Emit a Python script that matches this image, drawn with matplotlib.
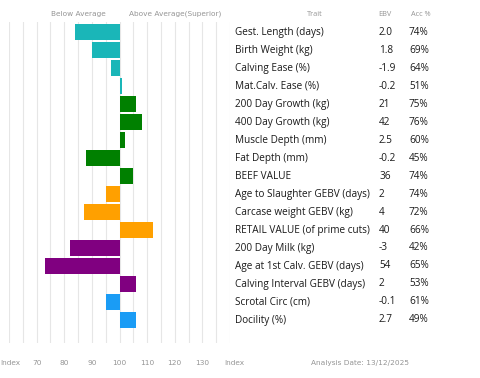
import matplotlib.pyplot as plt
from matplotlib.transforms import blended_transform_factory

traits = ["Gest. Length (days)", "Birth Weight (kg)", "Calving Ease (%)",
          "Mat.Calv. Ease (%)", "200 Day Growth (kg)", "400 Day Growth (kg)",
          "Muscle Depth (mm)", "Fat Depth (mm)", "BEEF VALUE",
          "Age to Slaughter GEBV (days)", "Carcase weight GEBV (kg)",
          "RETAIL VALUE (of prime cuts)", "200 Day Milk (kg)",
          "Age at 1st Calv. GEBV (days)", "Calving Interval GEBV (days)",
          "Scrotal Circ (cm)", "Docility (%)"]
ebv = ["2.0", "1.8", "-1.9", "-0.2", "21", "42", "2.5", "-0.2", "36",
       "2", "4", "40", "-3", "54", "2", "-0.1", "2.7"]
acc = ["74%", "69%", "64%", "51%", "75%", "76%", "60%", "45%", "74%",
       "74%", "72%", "66%", "42%", "65%", "53%", "61%", "49%"]
index = [84, 90, 97, 101, 106, 108, 102, 88, 105,
         95, 87, 112, 82, 73, 106, 95, 106]
group = ["a", "a", "a", "a", "b", "b", "b", "b", "b",
         "c", "c", "c", "d", "d", "d", "e", "e"]
groupColors = {"a": "#1ab6b8", "b": "#008000", "c": "#ffa000",
               "d": "#800080", "e": "#1a9cf5"}
tickVals = [70, 80, 90, 100, 110, 120, 130]

plt.rcParams['font.family'] = ['Open Sans', 'DejaVu Sans']

fig = plt.figure(figsize=(4.8, 3.78), dpi=100)
W, H = 480, 378
ax = fig.add_axes([9 / W, 1 - 343 / H, 221 / W, 321 / H])

n = len(traits)
rows = list(range(n))
colors = [groupColors[g] for g in group]
ax.barh(rows, [v - 100 for v in index], left=100, height=0.85, color=colors, zorder=2)

for g in range(60, 141, 5):
    ax.axvline(g, color="#e6e6e6", linewidth=0.8, zorder=1)

ax.set_xlim(60, 140)
ax.set_ylim(16 + 23 / 18, -10 / 18)
ax.axis("off")

tr = blended_transform_factory(fig.transFigure, ax.transData)
for i in rows:
    ax.text(235 / W, i, traits[i], transform=tr, fontsize=7.2, va="center", color="#1a1a1a")
    ax.text(379 / W, i, ebv[i], transform=tr, fontsize=7.2, va="center", color="#1a1a1a")
    ax.text(409 / W, i, acc[i], transform=tr, fontsize=7.2, va="center", color="#1a1a1a")

gray = "#959595"
gfont = "DejaVu Sans"
fy = 1 - 14 / H
fig.text(78 / W, fy, "Below Average", fontsize=5.3, family=gfont, color=gray, ha="center", va="center")
fig.text(175 / W, fy, "Above Average(Superior)", fontsize=5.3, family=gfont, color=gray, ha="center", va="center")
fig.text(315 / W, fy, "Trait", fontsize=5.3, color=gray, ha="center", va="center")
fig.text(385 / W, fy, "EBV", fontsize=5.3, color=gray, ha="center", va="center")
fig.text(421 / W, fy, "Acc %", fontsize=5.3, color=gray, ha="center", va="center")

by = 1 - 363 / H
trb = blended_transform_factory(ax.transData, fig.transFigure)
for t in tickVals:
    ax.text(t, by, str(t), transform=trb, fontsize=5.3, family=gfont, color=gray, ha="center", va="center")
fig.text(0 / W, by, "Index", fontsize=5.3, family=gfont, color=gray, ha="left", va="center")
fig.text(224 / W, by, "Index", fontsize=5.3, family=gfont, color=gray, ha="left", va="center")
fig.text(360 / W, by, "Analysis Date: 13/12/2025", fontsize=5.3, family=gfont, color=gray, ha="center", va="center")

fig.savefig("out.png", dpi=100)
